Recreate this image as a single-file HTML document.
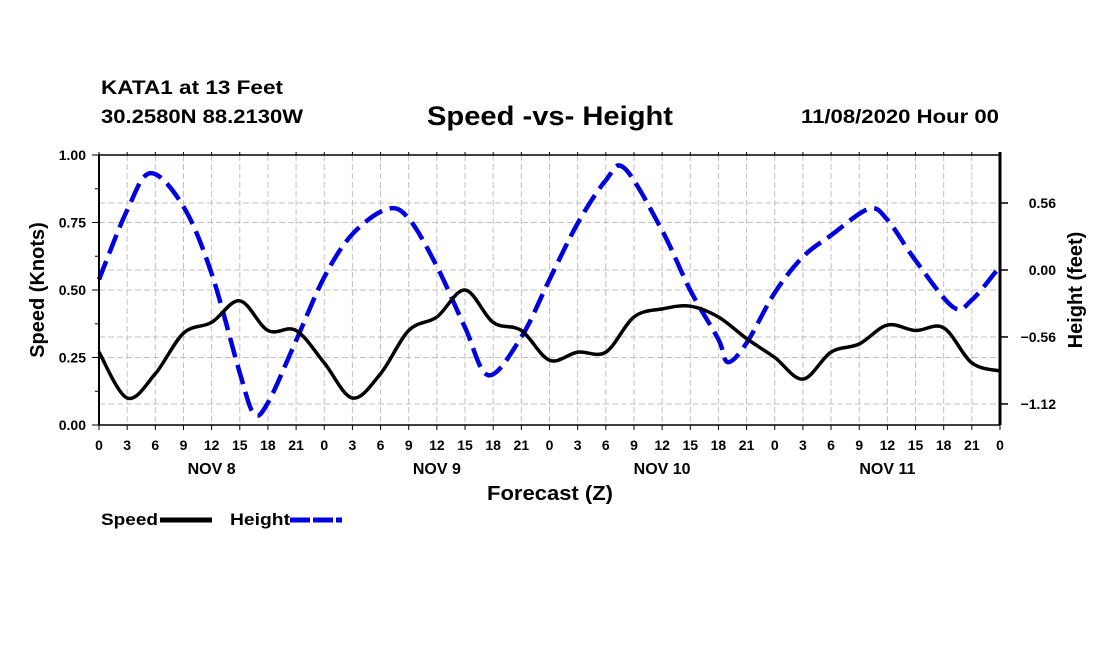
<!DOCTYPE html>
<html><head><meta charset="utf-8"><style>
body{margin:0;background:#fff;width:1100px;height:650px;overflow:hidden;font-family:"Liberation Sans",sans-serif}
svg text{font-family:"Liberation Sans",sans-serif;font-weight:bold}
</style></head><body>
<svg id="chart" width="1100" height="650" xmlns="http://www.w3.org/2000/svg">
<text x="101" y="94" font-size="19" textLength="182" lengthAdjust="spacingAndGlyphs">KATA1 at 13 Feet</text>
<text x="101" y="123" font-size="19" textLength="202" lengthAdjust="spacingAndGlyphs">30.2580N 88.2130W</text>
<text x="427" y="125" font-size="27" textLength="246" lengthAdjust="spacingAndGlyphs">Speed -vs- Height</text>
<text x="801" y="123" font-size="19" textLength="198" lengthAdjust="spacingAndGlyphs">11/08/2020 Hour 00</text>
<g id="grid"></g>
<g id="marks"></g>
<g id="axes"></g>
<text x="487" y="500" font-size="20" textLength="126" lengthAdjust="spacingAndGlyphs">Forecast (Z)</text>
<text transform="translate(44,290) rotate(-90)" font-size="20" text-anchor="middle">Speed (Knots)</text>
<text transform="translate(1082,290) rotate(-90)" font-size="20" text-anchor="middle">Height (feet)</text>
<g>
<text x="101" y="525" font-size="17" textLength="57" lengthAdjust="spacingAndGlyphs">Speed</text>
<line x1="160" y1="520" x2="212" y2="520" stroke="#000" stroke-width="5"/>
<text x="230" y="525" font-size="17" textLength="60" lengthAdjust="spacingAndGlyphs">Height</text>
<line x1="290" y1="520" x2="342" y2="520" stroke="#0000e0" stroke-width="5" stroke-dasharray="20 3"/>
</g>
</svg>
<script>
const speedHours=[0,3,6,9,12,15,18,21,24,27,30,33,36,39,42,45,48,51,54,57,60,63,66,69,72,75,78,81,84,87,90,93,96];
const speedValues=[0.27,0.10,0.19,0.34,0.38,0.46,0.35,0.35,0.23,0.10,0.19,0.35,0.40,0.50,0.38,0.35,0.24,0.27,0.27,0.40,0.43,0.44,0.40,0.32,0.25,0.17,0.27,0.30,0.37,0.35,0.36,0.23,0.20];
const heightHours=[0,3,5.5,9,12,15,16.5,18,21,24,27,30.7,33,36,39,41.5,45,48,51,54,56,60,63,66,67,69,72,75,78,82,84,87,91,93,96];
const heightValues=[-0.08,0.50,0.81,0.53,-0.03,-0.86,-1.2,-1.11,-0.59,-0.06,0.30,0.51,0.43,0.03,-0.48,-0.88,-0.56,-0.08,0.39,0.75,0.85,0.33,-0.17,-0.58,-0.77,-0.61,-0.19,0.11,0.29,0.51,0.42,0.08,-0.31,-0.25,0.03];
const xTickLabels=["0","3","6","9","12","15","18","21"];
const dayLabels=["NOV 8","NOV 9","NOV 10","NOV 11"];
const speedTicks=[0,0.25,0.5,0.75,1.0];
const heightTicks=[0.56,0,-0.56,-1.12];

const X0=99,X1=1000,Y0=425,Y1=155;
const xS=h=>X0+(X1-X0)*h/96;
const yS=v=>Y0-(Y0-Y1)*v;
const yH=f=>270-119.6*f;
const NS="http://www.w3.org/2000/svg";
function mk(tag,attrs,parent){const e=document.createElementNS(NS,tag);for(const k in attrs)e.setAttribute(k,attrs[k]);parent.appendChild(e);return e;}
const grid=document.getElementById('grid'),marks=document.getElementById('marks'),axes=document.getElementById('axes');
const gs={stroke:"#c0c0c0","stroke-width":1,"stroke-dasharray":"6 3"};
for(let h=3;h<96;h+=3){const l=mk('line',Object.assign({x1:xS(h),x2:xS(h),y1:Y1,y2:Y0},gs),grid);

}
speedTicks.slice(1,4).forEach(v=>{const l=mk('line',Object.assign({x1:X0,x2:X1,y1:yS(v),y2:yS(v)},gs),grid);

});
heightTicks.forEach(v=>{const l=mk('line',Object.assign({x1:X0,x2:X1,y1:yH(v),y2:yH(v)},gs),grid);

});

function smooth(pts){let d=`M${pts[0][0]},${pts[0][1]}`;for(let i=0;i<pts.length-1;i++){const p0=pts[Math.max(0,i-1)],p1=pts[i],p2=pts[i+1],p3=pts[Math.min(pts.length-1,i+2)];
const c1=[p1[0]+(p2[0]-p0[0])/6,p1[1]+(p2[1]-p0[1])/6],c2=[p2[0]-(p3[0]-p1[0])/6,p2[1]-(p3[1]-p1[1])/6];
d+=` C${c1[0]},${c1[1]} ${c2[0]},${c2[1]} ${p2[0]},${p2[1]}`;}return d;}
const hp=mk('path',{d:smooth(heightHours.map((h,i)=>[xS(h),yH(heightValues[i])])),fill:"none",stroke:"#0000e0","stroke-width":4.5,"stroke-dasharray":"20 8"},marks);


const sp=mk('path',{d:smooth(speedHours.map((h,i)=>[xS(h),yS(speedValues[i])])),fill:"none",stroke:"#000","stroke-width":3.5},marks);



mk('line',{x1:X0,x2:X0,y1:Y1,y2:Y0,stroke:"#000","stroke-width":2},axes);
mk('line',{x1:X1,x2:X1,y1:Y1-3,y2:Y0,stroke:"#000","stroke-width":3},axes);
mk('line',{x1:X0,x2:X1,y1:Y1,y2:Y1,stroke:"#000","stroke-width":1.5},axes);
mk('line',{x1:X0,x2:X1,y1:Y0,y2:Y0,stroke:"#000","stroke-width":1.5},axes);
for(let h=0;h<=96;h+=3){
 mk('line',{x1:xS(h),x2:xS(h),y1:Y0,y2:Y0+5,stroke:"#000","stroke-width":1},axes);
 mk('line',{x1:xS(h),x2:xS(h),y1:Y1,y2:Y1-3,stroke:"#000","stroke-width":1},axes);
 const t=mk('text',{x:xS(h),y:450,"font-size":14,"text-anchor":"middle"},axes);
 
 
 t.textContent=xTickLabels[(h/3)%8];}
dayLabels.forEach((d,i)=>{const t=mk('text',{x:xS(i*24+12),y:474,"font-size":16,"text-anchor":"middle"},axes);
 
 
 t.textContent=d;});
for(let v=0;v<=1.0001;v+=0.125){mk('line',{x1:X0-(Math.round(v*8)%2?4:7),x2:X0,y1:yS(v),y2:yS(v),stroke:"#000","stroke-width":1},axes);}
speedTicks.forEach(v=>{const t=mk('text',{x:86,y:yS(v)+5,"font-size":14,"text-anchor":"end"},axes);
 
 
 t.textContent=v.toFixed(2);});
heightTicks.forEach(v=>{mk('line',{x1:X1,x2:X1+8,y1:yH(v),y2:yH(v),stroke:"#000","stroke-width":1.5},axes);
 const t=mk('text',{x:1056,y:yH(v)+5,"font-size":14,"text-anchor":"end"},axes);
 
 
 t.textContent=(v<0?"\u2212":"")+Math.abs(v).toFixed(2);});
</script>
</body></html>
